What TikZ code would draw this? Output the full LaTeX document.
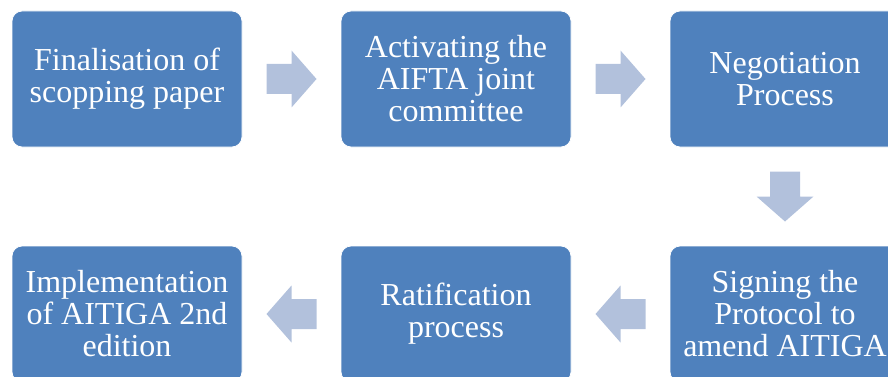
\documentclass[tikz,border=0pt]{standalone}
\usepackage{fontspec}
\setmainfont{Liberation Serif}
\usetikzlibrary{calc}
\definecolor{boxblue}{HTML}{4F81BD}
\definecolor{arrowblue}{HTML}{B2C1DC}
\tikzset{
  stepbox/.style={rectangle, rounded corners=10pt, fill=boxblue, draw=white, line width=0.8pt,
    minimum width=230pt, minimum height=136pt, text=white, align=center,
    font=\fontsize{32}{32}\selectfont, inner sep=0pt},
  blockarrow/.pic={
    \fill[arrowblue] (-25,-15) -- (0,-15) -- (0,-28.5) -- (25,0) -- (0,28.5) -- (0,15) -- (-25,15) -- cycle;
  }
}
\begin{document}
\begin{tikzpicture}[x=1pt,y=-1pt]
  \useasboundingbox (0,0) rectangle (888,377);
  % top row, left to right
  \node[stepbox] (b1) at (127,79) {Finalisation of\\scopping paper};
  \node[stepbox] (b2) at (456,79) {Activating the\\AIFTA joint\\committee};
  \node[stepbox] (b3) at (785,79) {Negotiation\\Process};
  % bottom row, right to left
  \node[stepbox] (b4) at (785,314) {Signing the\\Protocol to\\amend AITIGA};
  \node[stepbox] (b5) at (456,314) {Ratification\\process};
  \node[stepbox] (b6) at (127,314) {Implementation\\of AITIGA 2nd\\edition};
  % block arrows between the steps
  \pic at ($(b1.east)!0.5!(b2.west)$) {blockarrow};
  \pic at ($(b2.east)!0.5!(b3.west)$) {blockarrow};
  \pic[rotate=-90] at ($(b3.south)!0.5!(b4.north)$) {blockarrow};
  \pic[rotate=180] at ($(b4.west)!0.5!(b5.east)$) {blockarrow};
  \pic[rotate=180] at ($(b5.west)!0.5!(b6.east)$) {blockarrow};
\end{tikzpicture}
\end{document}
